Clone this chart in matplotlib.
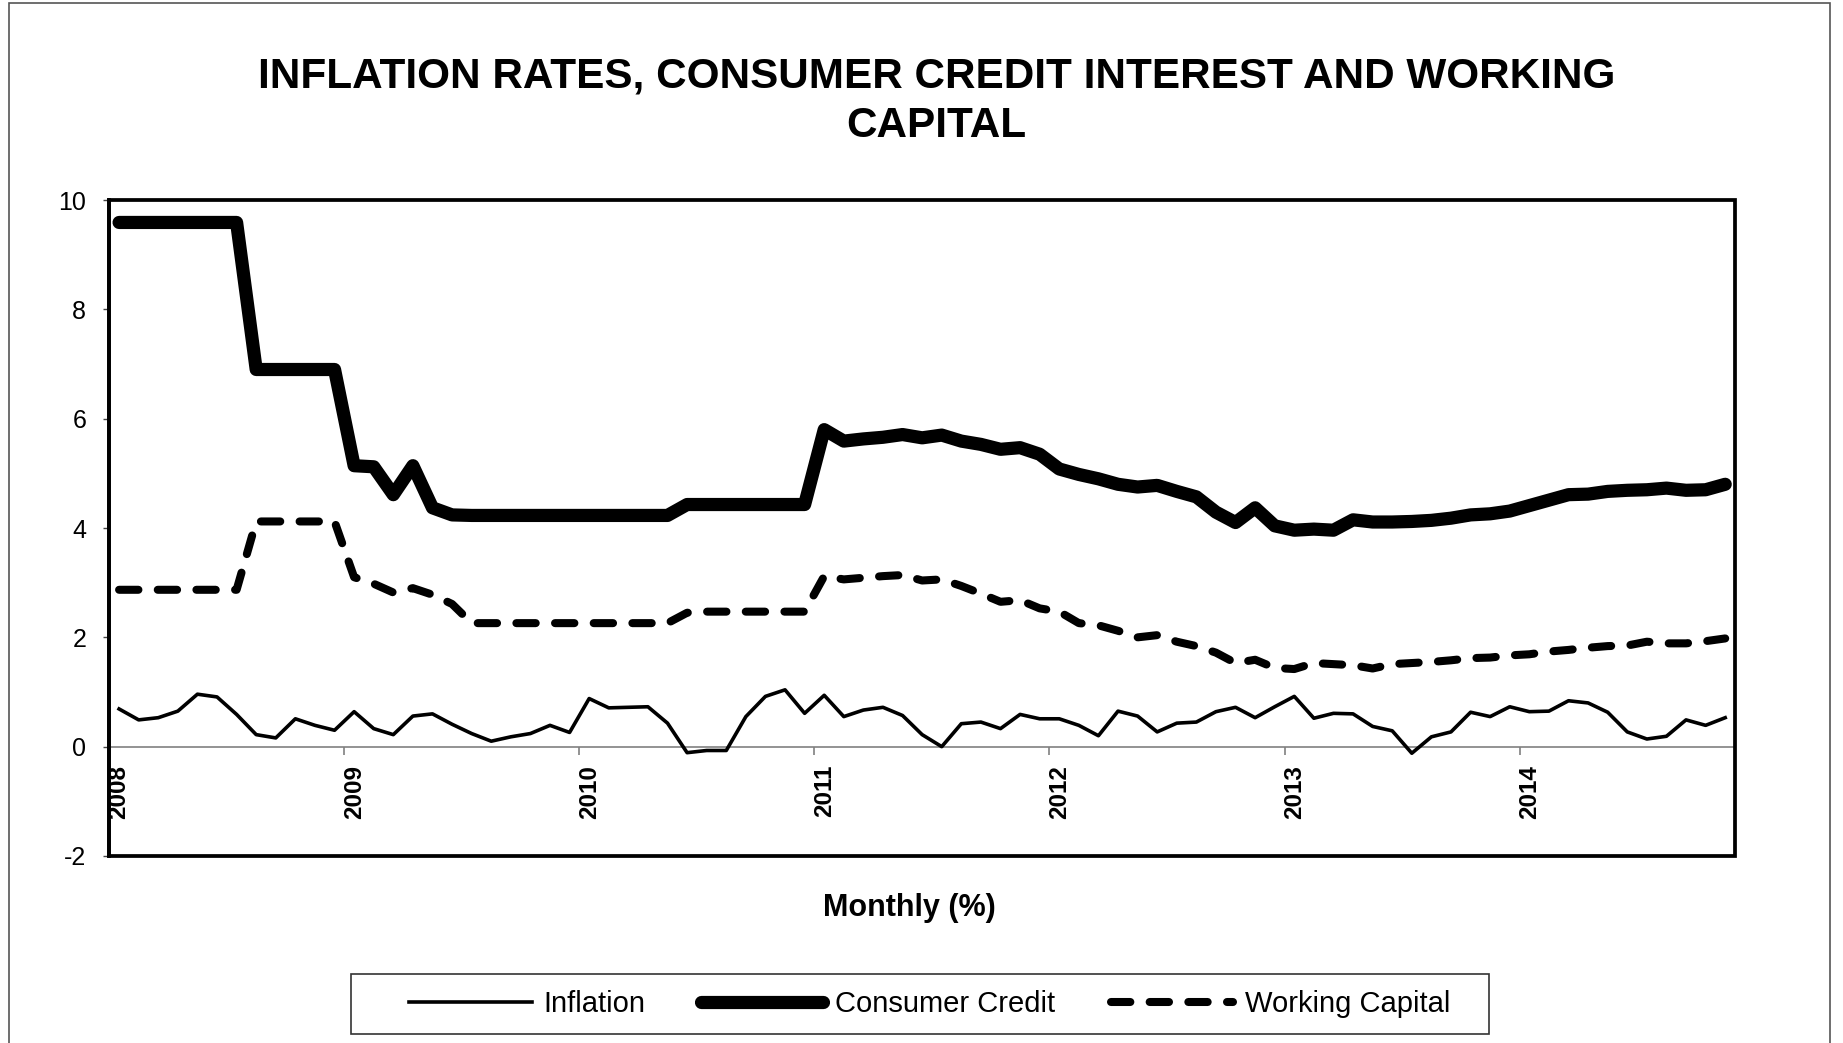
import matplotlib
matplotlib.use('Agg')
import matplotlib.pyplot as plt
from matplotlib.patches import Rectangle
import pandas as pd

plt.rcParams['font.family'] = ['Liberation Sans', 'DejaVu Sans']
plt.rcParams['axes.unicode_minus'] = False

# monthly categories, Jan 2008 .. Nov 2014
months = pd.date_range('2008-01-01', '2014-11-01', freq='MS')
years = ['2008', '2009', '2010', '2011', '2012', '2013', '2014']

inflation = [0.69, 0.49, 0.53, 0.65, 0.96, 0.91, 0.59, 0.22, 0.16, 0.51, 0.39, 0.30,
             0.64, 0.33, 0.22, 0.56, 0.60, 0.41, 0.24, 0.10, 0.18, 0.24, 0.39, 0.26,
             0.88, 0.71, 0.72, 0.73, 0.43, -0.11, -0.07, -0.07, 0.55, 0.92, 1.04, 0.61,
             0.94, 0.55, 0.67, 0.72, 0.57, 0.22, 0.00, 0.42, 0.45, 0.33, 0.59, 0.51,
             0.51, 0.39, 0.20, 0.65, 0.56, 0.27, 0.43, 0.45, 0.64, 0.72, 0.53, 0.73,
             0.92, 0.52, 0.61, 0.60, 0.37, 0.29, -0.12, 0.18, 0.27, 0.63, 0.55, 0.73,
             0.64, 0.65, 0.84, 0.80, 0.63, 0.27, 0.14, 0.19, 0.49, 0.39, 0.53]

consumer_credit = [9.59, 9.59, 9.59, 9.59, 9.59, 9.59, 9.59, 6.90, 6.90, 6.90, 6.90, 6.90,
                   5.14, 5.12, 4.61, 5.14, 4.37, 4.24, 4.23, 4.23, 4.23, 4.23, 4.23, 4.23,
                   4.23, 4.23, 4.23, 4.23, 4.23, 4.43, 4.43, 4.43, 4.43, 4.43, 4.43, 4.43,
                   5.80, 5.59, 5.63, 5.66, 5.71, 5.65, 5.70, 5.59, 5.53, 5.44, 5.47, 5.35,
                   5.08, 4.98, 4.90, 4.80, 4.75, 4.78, 4.67, 4.57, 4.29, 4.10, 4.37, 4.04,
                   3.96, 3.98, 3.96, 4.15, 4.11, 4.11, 4.12, 4.14, 4.18, 4.24, 4.26, 4.31,
                   4.41, 4.51, 4.61, 4.62, 4.67, 4.69, 4.70, 4.73, 4.69, 4.70, 4.80]

working_capital = [2.87, 2.87, 2.87, 2.87, 2.87, 2.87, 2.87, 4.12, 4.12, 4.12, 4.12, 4.12,
                   3.10, 2.98, 2.82, 2.90, 2.78, 2.61, 2.26, 2.26, 2.26, 2.26, 2.26, 2.26,
                   2.26, 2.26, 2.26, 2.26, 2.26, 2.45, 2.47, 2.47, 2.47, 2.47, 2.47, 2.47,
                   3.12, 3.06, 3.09, 3.12, 3.14, 3.04, 3.06, 2.94, 2.80, 2.65, 2.68, 2.53,
                   2.47, 2.26, 2.22, 2.12, 2.00, 2.04, 1.92, 1.84, 1.72, 1.53, 1.59, 1.44,
                   1.42, 1.53, 1.51, 1.49, 1.43, 1.51, 1.53, 1.55, 1.58, 1.62, 1.63, 1.67,
                   1.69, 1.74, 1.77, 1.81, 1.84, 1.85, 1.92, 1.89, 1.89, 1.93, 1.98]

x = list(range(len(months)))

fig = plt.figure(figsize=(18.43, 10.43), dpi=100)
fig.patch.set_facecolor('white')

# chart-area border
fig.patches.append(Rectangle((9 / 1843, -0.02), (1830 - 9) / 1843, 1 - 3 / 1043 + 0.02,
                             transform=fig.transFigure, fill=False, lw=1.2,
                             ec='#555555', figure=fig))

ax = fig.add_axes([0.0593, 0.1793, 0.9414 - 0.0593, 0.8082 - 0.1793])

ax.plot(x, inflation, color='black', lw=2.6, label='Inflation', zorder=3)
ax.plot(x, consumer_credit, color='black', lw=9.5, solid_capstyle='round',
        solid_joinstyle='round', label='Consumer Credit', zorder=3)
ax.plot(x, working_capital, color='black', lw=5.8, dashes=(2.4, 2.4),
        dash_capstyle='round', label='Working Capital', zorder=3)

ax.set_xlim(-0.5, len(months) - 0.5)
ax.set_ylim(-2, 10)
ax.set_yticks(range(-2, 11, 2))
ax.tick_params(axis='y', direction='out', length=4.5, width=1, color='#444444',
               pad=12, labelsize=18)

# category axis crosses at zero
for s in ['top', 'right']:
    ax.spines[s].set_visible(False)
ax.spines['left'].set_linewidth(2.7)
ax.spines['bottom'].set_position(('data', 0))
ax.spines['bottom'].set_color('#808080')
ax.spines['bottom'].set_linewidth(1.2)
ax.spines['bottom'].set_zorder(1)

year_idx = [i for i, m in enumerate(months) if m.month == 1]
ax.set_xticks([i - 0.5 for i in year_idx])
ax.set_xticklabels([])
ax.tick_params(axis='x', which='major', direction='out', length=6, width=1.2,
               color='#808080')
ax.set_xticks(year_idx, minor=True)
ax.set_xticklabels(years, minor=True, rotation=90, fontsize=17.5, fontweight='bold')
ax.tick_params(axis='x', which='minor', length=0, pad=13)

ax.add_patch(Rectangle((0, 0), 1, 1, transform=ax.transAxes, fill=False,
                       lw=2.7, ec='black', clip_on=False, zorder=5))

# title, two centred lines
fig.text(0.5083, 1 - 76.5 / 1043, 'INFLATION RATES, CONSUMER CREDIT INTEREST AND WORKING',
         ha='center', va='center', fontsize=30.4, fontweight='bold')
fig.text(0.5083, 1 - 126 / 1043, 'CAPITAL',
         ha='center', va='center', fontsize=30.4, fontweight='bold')

fig.text(0.4932, 0.1294, 'Monthly (%)', ha='center', va='center', fontsize=22,
         fontweight='bold')

# legend box drawn separately, Excel-style wide padding
fig.patches.append(Rectangle((351 / 1843, 1 - 1034 / 1043), (1489 - 351) / 1843, 60 / 1043,
                             transform=fig.transFigure, fill=False, lw=1.2,
                             ec='#333333', figure=fig))
fig.legend(loc='center', bbox_to_anchor=(0.5045, 1 - 1004 / 1043), ncol=3, fontsize=21,
           frameon=False, handlelength=4.2, handletextpad=0.4, columnspacing=1.9,
           borderpad=0.3, borderaxespad=0)

fig.savefig('out.png', dpi=100, facecolor='white')
